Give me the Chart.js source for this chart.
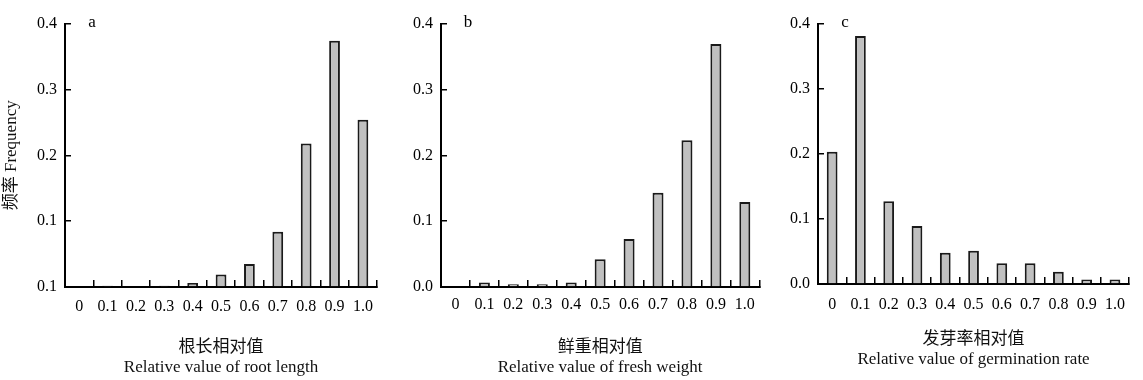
<!DOCTYPE html>
<html>
<head>
<meta charset="utf-8">
<script src="https://cdn.jsdelivr.net/npm/chart.js@4.4.1/dist/chart.umd.min.js"></script>
<style>
  html, body { margin: 0; padding: 0; background: #fff; }
  #wrap { position: relative; width: 1143px; height: 380px; overflow: hidden; }
  canvas { position: absolute; top: 0; }
</style>
</head>
<body>
<div id="wrap">
  <canvas id="chart-a" width="390" height="380" style="left:0"></canvas>
  <canvas id="chart-b" width="380" height="380" style="left:390px"></canvas>
  <canvas id="chart-c" width="373" height="380" style="left:770px"></canvas>
</div>
<script>
/* ── Data ── */
const categories = ['0', '0.1', '0.2', '0.3', '0.4', '0.5', '0.6', '0.7', '0.8', '0.9', '1.0'];

const rootLength  = [0, 0.002, 0, 0.002, 0.006, 0.019, 0.035, 0.084, 0.218, 0.374, 0.254];
const freshWeight = [0, 0.007, 0.004, 0.004, 0.007, 0.042, 0.073, 0.143, 0.223, 0.369, 0.129];
const germination = [0.203, 0.381, 0.127, 0.089, 0.048, 0.051, 0.032, 0.032, 0.019, 0.007, 0.007];

const yTicksA = ['0.1', '0.1', '0.2', '0.3', '0.4'];   // as printed in the original
const yTicksBC = ['0.0', '0.1', '0.2', '0.3', '0.4'];

const FONT = "'Liberation Serif', 'Noto Sans CJK SC', serif";

/* ── panel letter plugin ── */
const panelLetter = {
  id: 'panelLetter',
  afterDraw(chart, args, opts) {
    const { ctx, chartArea } = chart;
    ctx.save();
    ctx.font = '17px ' + FONT;
    ctx.fillStyle = '#000';
    ctx.textAlign = 'center';
    ctx.textBaseline = 'middle';
    ctx.fillText(opts.text, chartArea.left + 27, chartArea.top - 1);
    ctx.restore();
  }
};

function makePanel(id, values, yTicks, cfg) {
  return new Chart(document.getElementById(id), {
    type: 'bar',
    data: {
      labels: categories,
      datasets: [{
        data: values,
        backgroundColor: '#c0c0c0',
        borderColor: '#1a1a1a',
        borderWidth: 2,
        categoryPercentage: 1,
        barPercentage: 0.38
      }]
    },
    options: {
      responsive: false,
      animation: false,
      layout: { padding: { left: 0, right: cfg.right, top: cfg.top, bottom: 0 } },
      plugins: {
        legend: { display: false },
        tooltip: { enabled: false },
        panelLetter: { text: cfg.letter }
      },
      scales: {
        x: {
          grid: { display: true, drawOnChartArea: false, drawTicks: true, tickLength: -7, color: '#000', lineWidth: 1.5 },
          border: { display: true, color: '#000', width: 2 },
          ticks: { color: '#000', font: { family: FONT, size: 16 }, padding: cfg.xPad, maxRotation: 0, autoSkip: false },
          title: {
            display: true,
            text: cfg.xTitle,
            color: '#111',
            font: { family: FONT, size: 17, lineHeight: '20px' },
            padding: { top: 0, bottom: cfg.titleBottom }
          },
          afterFit: s => { s.height = cfg.xHeight; }
        },
        y: {
          min: 0,
          max: 0.4,
          ticks: {
            stepSize: 0.1,
            color: '#000',
            font: { family: FONT, size: 16 },
            padding: 14,
            callback: (v, i) => yTicks[i]
          },
          grid: { display: true, drawOnChartArea: false, drawTicks: true, tickLength: -6, color: '#000', lineWidth: 1.5 },
          border: { display: true, color: '#000', width: 2 },
          title: {
            display: !!cfg.yTitle,
            text: cfg.yTitle || '',
            color: '#111',
            font: { family: FONT, size: 17, lineHeight: '20px' },
            padding: { top: 2, bottom: 0 }
          },
          afterFit: s => { s.width = cfg.yWidth; }
        }
      }
    },
    plugins: [panelLetter]
  });
}

makePanel('chart-a', rootLength, yTicksA, {
  letter: 'a', yWidth: 65, right: 2, top: 14, xHeight: 93, xPad: 17, titleBottom: 2,
  yTitle: '频率 Frequency',
  xTitle: ['根长相对值', 'Relative value of root length']
});
makePanel('chart-b', freshWeight, yTicksBC, {
  letter: 'b', yWidth: 51, right: 4, top: 14, xHeight: 93, xPad: 15, titleBottom: 2,
  xTitle: ['鲜重相对值', 'Relative value of fresh weight']
});
makePanel('chart-c', germination, yTicksBC, {
  letter: 'c', yWidth: 48, right: 1, top: 14, xHeight: 96, xPad: 18, titleBottom: 10,
  xTitle: ['发芽率相对值', 'Relative value of germination rate']
});
</script>
</body>
</html>
